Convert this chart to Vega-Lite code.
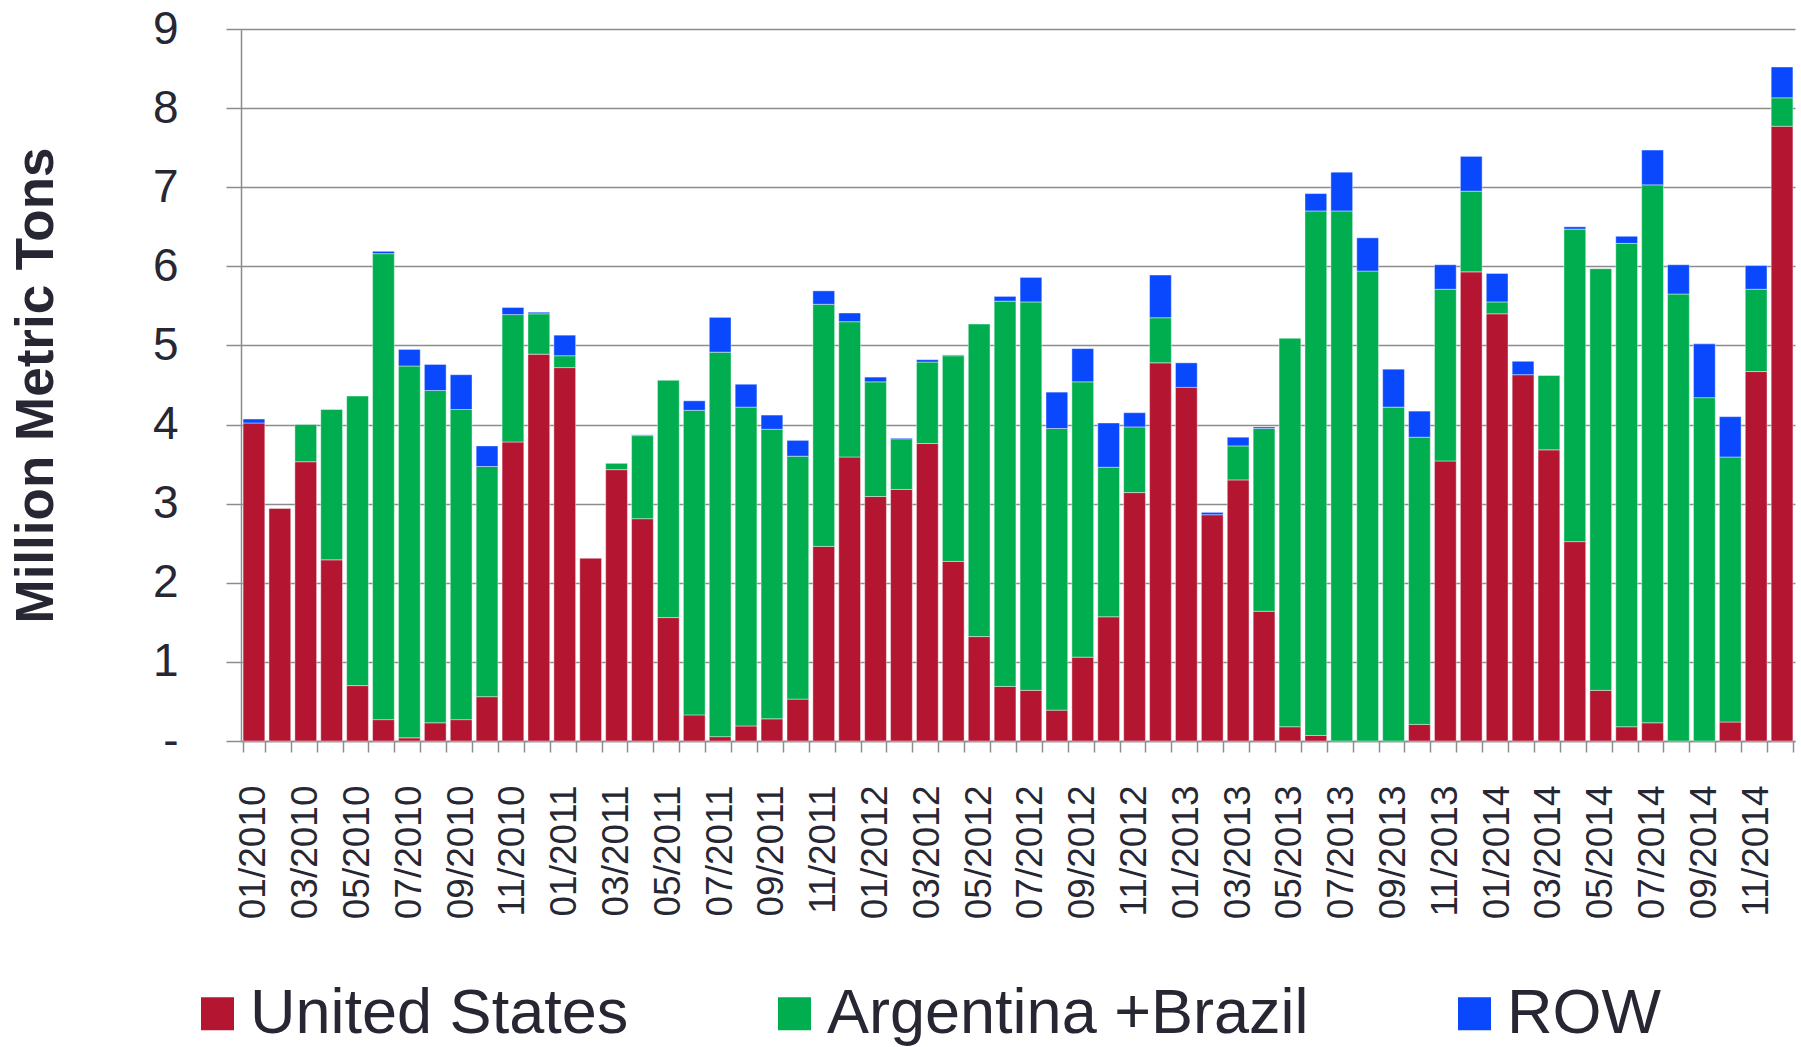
{
  "$schema": "https://vega.github.io/schema/vega-lite/v6.json",
  "width": 1554,
  "height": 712,
  "autosize": {"type": "none"},
  "padding": {"left": 241, "top": 29, "right": 6, "bottom": 306},
  "background": "white",
  "config": {
    "view": {"stroke": null},
    "font": "Liberation Sans",
    "axis": {"labelFont": "Liberation Sans", "titleFont": "Liberation Sans", "labelColor": "#272733", "titleColor": "#272733"}
  },
  "data": {
    "values": [
      {"m":"01/2010","r":"United States","v":4.02,"o":1},{"m":"01/2010","r":"ROW","v":0.05,"o":3},
      {"m":"02/2010","r":"United States","v":2.94,"o":1},
      {"m":"03/2010","r":"United States","v":3.53,"o":1},{"m":"03/2010","r":"Argentina +Brazil","v":0.47,"o":2},
      {"m":"04/2010","r":"United States","v":2.29,"o":1},{"m":"04/2010","r":"Argentina +Brazil","v":1.90,"o":2},
      {"m":"05/2010","r":"United States","v":0.70,"o":1},{"m":"05/2010","r":"Argentina +Brazil","v":3.66,"o":2},
      {"m":"06/2010","r":"United States","v":0.27,"o":1},{"m":"06/2010","r":"Argentina +Brazil","v":5.89,"o":2},{"m":"06/2010","r":"ROW","v":0.03,"o":3},
      {"m":"07/2010","r":"United States","v":0.04,"o":1},{"m":"07/2010","r":"Argentina +Brazil","v":4.70,"o":2},{"m":"07/2010","r":"ROW","v":0.21,"o":3},
      {"m":"08/2010","r":"United States","v":0.23,"o":1},{"m":"08/2010","r":"Argentina +Brazil","v":4.20,"o":2},{"m":"08/2010","r":"ROW","v":0.33,"o":3},
      {"m":"09/2010","r":"United States","v":0.27,"o":1},{"m":"09/2010","r":"Argentina +Brazil","v":3.92,"o":2},{"m":"09/2010","r":"ROW","v":0.44,"o":3},
      {"m":"10/2010","r":"United States","v":0.56,"o":1},{"m":"10/2010","r":"Argentina +Brazil","v":2.91,"o":2},{"m":"10/2010","r":"ROW","v":0.26,"o":3},
      {"m":"11/2010","r":"United States","v":3.78,"o":1},{"m":"11/2010","r":"Argentina +Brazil","v":1.61,"o":2},{"m":"11/2010","r":"ROW","v":0.09,"o":3},
      {"m":"12/2010","r":"United States","v":4.89,"o":1},{"m":"12/2010","r":"Argentina +Brazil","v":0.51,"o":2},{"m":"12/2010","r":"ROW","v":0.02,"o":3},
      {"m":"01/2011","r":"United States","v":4.72,"o":1},{"m":"01/2011","r":"Argentina +Brazil","v":0.15,"o":2},{"m":"01/2011","r":"ROW","v":0.26,"o":3},
      {"m":"02/2011","r":"United States","v":2.31,"o":1},
      {"m":"03/2011","r":"United States","v":3.43,"o":1},{"m":"03/2011","r":"Argentina +Brazil","v":0.08,"o":2},
      {"m":"04/2011","r":"United States","v":2.81,"o":1},{"m":"04/2011","r":"Argentina +Brazil","v":1.05,"o":2},{"m":"04/2011","r":"ROW","v":0.01,"o":3},
      {"m":"05/2011","r":"United States","v":1.56,"o":1},{"m":"05/2011","r":"Argentina +Brazil","v":3.00,"o":2},
      {"m":"06/2011","r":"United States","v":0.33,"o":1},{"m":"06/2011","r":"Argentina +Brazil","v":3.85,"o":2},{"m":"06/2011","r":"ROW","v":0.12,"o":3},
      {"m":"07/2011","r":"United States","v":0.055,"o":1},{"m":"07/2011","r":"Argentina +Brazil","v":4.86,"o":2},{"m":"07/2011","r":"ROW","v":0.44,"o":3},
      {"m":"08/2011","r":"United States","v":0.19,"o":1},{"m":"08/2011","r":"Argentina +Brazil","v":4.03,"o":2},{"m":"08/2011","r":"ROW","v":0.29,"o":3},
      {"m":"09/2011","r":"United States","v":0.28,"o":1},{"m":"09/2011","r":"Argentina +Brazil","v":3.66,"o":2},{"m":"09/2011","r":"ROW","v":0.18,"o":3},
      {"m":"10/2011","r":"United States","v":0.53,"o":1},{"m":"10/2011","r":"Argentina +Brazil","v":3.07,"o":2},{"m":"10/2011","r":"ROW","v":0.20,"o":3},
      {"m":"11/2011","r":"United States","v":2.46,"o":1},{"m":"11/2011","r":"Argentina +Brazil","v":3.06,"o":2},{"m":"11/2011","r":"ROW","v":0.17,"o":3},
      {"m":"12/2011","r":"United States","v":3.59,"o":1},{"m":"12/2011","r":"Argentina +Brazil","v":1.71,"o":2},{"m":"12/2011","r":"ROW","v":0.11,"o":3},
      {"m":"01/2012","r":"United States","v":3.09,"o":1},{"m":"01/2012","r":"Argentina +Brazil","v":1.45,"o":2},{"m":"01/2012","r":"ROW","v":0.06,"o":3},
      {"m":"02/2012","r":"United States","v":3.18,"o":1},{"m":"02/2012","r":"Argentina +Brazil","v":0.64,"o":2},{"m":"02/2012","r":"ROW","v":0.01,"o":3},
      {"m":"03/2012","r":"United States","v":3.76,"o":1},{"m":"03/2012","r":"Argentina +Brazil","v":1.03,"o":2},{"m":"03/2012","r":"ROW","v":0.03,"o":3},
      {"m":"04/2012","r":"United States","v":2.27,"o":1},{"m":"04/2012","r":"Argentina +Brazil","v":2.60,"o":2},{"m":"04/2012","r":"ROW","v":0.01,"o":3},
      {"m":"05/2012","r":"United States","v":1.32,"o":1},{"m":"05/2012","r":"Argentina +Brazil","v":3.95,"o":2},
      {"m":"06/2012","r":"United States","v":0.69,"o":1},{"m":"06/2012","r":"Argentina +Brazil","v":4.87,"o":2},{"m":"06/2012","r":"ROW","v":0.06,"o":3},
      {"m":"07/2012","r":"United States","v":0.64,"o":1},{"m":"07/2012","r":"Argentina +Brazil","v":4.91,"o":2},{"m":"07/2012","r":"ROW","v":0.31,"o":3},
      {"m":"08/2012","r":"United States","v":0.39,"o":1},{"m":"08/2012","r":"Argentina +Brazil","v":3.56,"o":2},{"m":"08/2012","r":"ROW","v":0.46,"o":3},
      {"m":"09/2012","r":"United States","v":1.06,"o":1},{"m":"09/2012","r":"Argentina +Brazil","v":3.48,"o":2},{"m":"09/2012","r":"ROW","v":0.42,"o":3},
      {"m":"10/2012","r":"United States","v":1.57,"o":1},{"m":"10/2012","r":"Argentina +Brazil","v":1.89,"o":2},{"m":"10/2012","r":"ROW","v":0.56,"o":3},
      {"m":"11/2012","r":"United States","v":3.14,"o":1},{"m":"11/2012","r":"Argentina +Brazil","v":0.83,"o":2},{"m":"11/2012","r":"ROW","v":0.18,"o":3},
      {"m":"12/2012","r":"United States","v":4.78,"o":1},{"m":"12/2012","r":"Argentina +Brazil","v":0.57,"o":2},{"m":"12/2012","r":"ROW","v":0.54,"o":3},
      {"m":"01/2013","r":"United States","v":4.47,"o":1},{"m":"01/2013","r":"ROW","v":0.31,"o":3},
      {"m":"02/2013","r":"United States","v":2.86,"o":1},{"m":"02/2013","r":"ROW","v":0.03,"o":3},
      {"m":"03/2013","r":"United States","v":3.30,"o":1},{"m":"03/2013","r":"Argentina +Brazil","v":0.43,"o":2},{"m":"03/2013","r":"ROW","v":0.11,"o":3},
      {"m":"04/2013","r":"United States","v":1.64,"o":1},{"m":"04/2013","r":"Argentina +Brazil","v":2.31,"o":2},{"m":"04/2013","r":"ROW","v":0.02,"o":3},
      {"m":"05/2013","r":"United States","v":0.18,"o":1},{"m":"05/2013","r":"Argentina +Brazil","v":4.91,"o":2},
      {"m":"06/2013","r":"United States","v":0.07,"o":1},{"m":"06/2013","r":"Argentina +Brazil","v":6.63,"o":2},{"m":"06/2013","r":"ROW","v":0.22,"o":3},
      {"m":"07/2013","r":"Argentina +Brazil","v":6.70,"o":2},{"m":"07/2013","r":"ROW","v":0.49,"o":3},
      {"m":"08/2013","r":"Argentina +Brazil","v":5.94,"o":2},{"m":"08/2013","r":"ROW","v":0.42,"o":3},
      {"m":"09/2013","r":"Argentina +Brazil","v":4.22,"o":2},{"m":"09/2013","r":"ROW","v":0.48,"o":3},
      {"m":"10/2013","r":"United States","v":0.21,"o":1},{"m":"10/2013","r":"Argentina +Brazil","v":3.63,"o":2},{"m":"10/2013","r":"ROW","v":0.33,"o":3},
      {"m":"11/2013","r":"United States","v":3.54,"o":1},{"m":"11/2013","r":"Argentina +Brazil","v":2.17,"o":2},{"m":"11/2013","r":"ROW","v":0.31,"o":3},
      {"m":"12/2013","r":"United States","v":5.93,"o":1},{"m":"12/2013","r":"Argentina +Brazil","v":1.02,"o":2},{"m":"12/2013","r":"ROW","v":0.44,"o":3},
      {"m":"01/2014","r":"United States","v":5.40,"o":1},{"m":"01/2014","r":"Argentina +Brazil","v":0.15,"o":2},{"m":"01/2014","r":"ROW","v":0.36,"o":3},
      {"m":"02/2014","r":"United States","v":4.63,"o":1},{"m":"02/2014","r":"ROW","v":0.17,"o":3},
      {"m":"03/2014","r":"United States","v":3.68,"o":1},{"m":"03/2014","r":"Argentina +Brazil","v":0.94,"o":2},
      {"m":"04/2014","r":"United States","v":2.52,"o":1},{"m":"04/2014","r":"Argentina +Brazil","v":3.95,"o":2},{"m":"04/2014","r":"ROW","v":0.03,"o":3},
      {"m":"05/2014","r":"United States","v":0.64,"o":1},{"m":"05/2014","r":"Argentina +Brazil","v":5.33,"o":2},
      {"m":"06/2014","r":"United States","v":0.18,"o":1},{"m":"06/2014","r":"Argentina +Brazil","v":6.11,"o":2},{"m":"06/2014","r":"ROW","v":0.09,"o":3},
      {"m":"07/2014","r":"United States","v":0.23,"o":1},{"m":"07/2014","r":"Argentina +Brazil","v":6.80,"o":2},{"m":"07/2014","r":"ROW","v":0.44,"o":3},
      {"m":"08/2014","r":"Argentina +Brazil","v":5.65,"o":2},{"m":"08/2014","r":"ROW","v":0.37,"o":3},
      {"m":"09/2014","r":"Argentina +Brazil","v":4.34,"o":2},{"m":"09/2014","r":"ROW","v":0.68,"o":3},
      {"m":"10/2014","r":"United States","v":0.24,"o":1},{"m":"10/2014","r":"Argentina +Brazil","v":3.35,"o":2},{"m":"10/2014","r":"ROW","v":0.51,"o":3},
      {"m":"11/2014","r":"United States","v":4.67,"o":1},{"m":"11/2014","r":"Argentina +Brazil","v":1.04,"o":2},{"m":"11/2014","r":"ROW","v":0.30,"o":3},
      {"m":"12/2014","r":"United States","v":7.77,"o":1},{"m":"12/2014","r":"Argentina +Brazil","v":0.36,"o":2},{"m":"12/2014","r":"ROW","v":0.39,"o":3}
    ]
  },
  "mark": {"type": "bar", "stroke": "#ffffff", "strokeWidth": 0.6, "strokeOpacity": 0.7},
  "encoding": {
    "x": {
      "field": "m", "type": "ordinal", "sort": null,
      "scale": {"paddingInner": 0.16, "paddingOuter": 0.08},
      "axis": {
        "title": null,
        "tickBand": "extent",
        "domainColor": "#8c8c8c", "domainWidth": 1.5,
        "tickColor": "#8c8c8c", "tickWidth": 1.5, "tickSize": 11,
        "labelAngle": -90, "labelAlign": "right", "labelBaseline": "middle",
        "labelFontSize": 37, "labelPadding": 33, "labelOverlap": false, "labelLimit": 0,
        "labelExpr": "parseInt(substring(datum.value,0,2)) % 2 == 1 ? datum.label : ''",
        "grid": false
      }
    },
    "y": {
      "field": "v", "type": "quantitative", "aggregate": "sum", "stack": "zero",
      "scale": {"domain": [0, 9], "nice": false},
      "axis": {
        "title": "Million Metric Tons",
        "titleFontSize": 53, "titleFontWeight": "bold",
        "titleX": -178, "titleY": 356,
        "values": [0,1,2,3,4,5,6,7,8,9],
        "labelExpr": "datum.value == 0 ? '-\u2007' : datum.label",
        "labelFontSize": 46, "labelPadding": 48,
        "tickSize": 15, "tickColor": "#8c8c8c", "tickWidth": 1.5,
        "domainColor": "#8c8c8c", "domainWidth": 1.5,
        "grid": true, "gridColor": "#8c8c8c", "gridWidth": 1.5
      }
    },
    "color": {
      "field": "r", "type": "nominal",
      "scale": {"domain": ["United States", "Argentina +Brazil", "ROW"], "range": ["#B41632", "#00AE4F", "#0A48FE"]},
      "legend": {
        "title": null, "orient": "none", "direction": "horizontal",
        "legendX": -55, "legendY": 953,
        "symbolType": "square", "symbolSize": 1089, "symbolStrokeWidth": 0,
        "labelFontSize": 63, "labelColor": "#272733", "labelFont": "Liberation Sans",
        "labelOffset": 1, "columnPadding": 134, "labelLimit": 0, "padding": 0
      }
    },
    "order": {"field": "o", "type": "quantitative"}
  }
}
